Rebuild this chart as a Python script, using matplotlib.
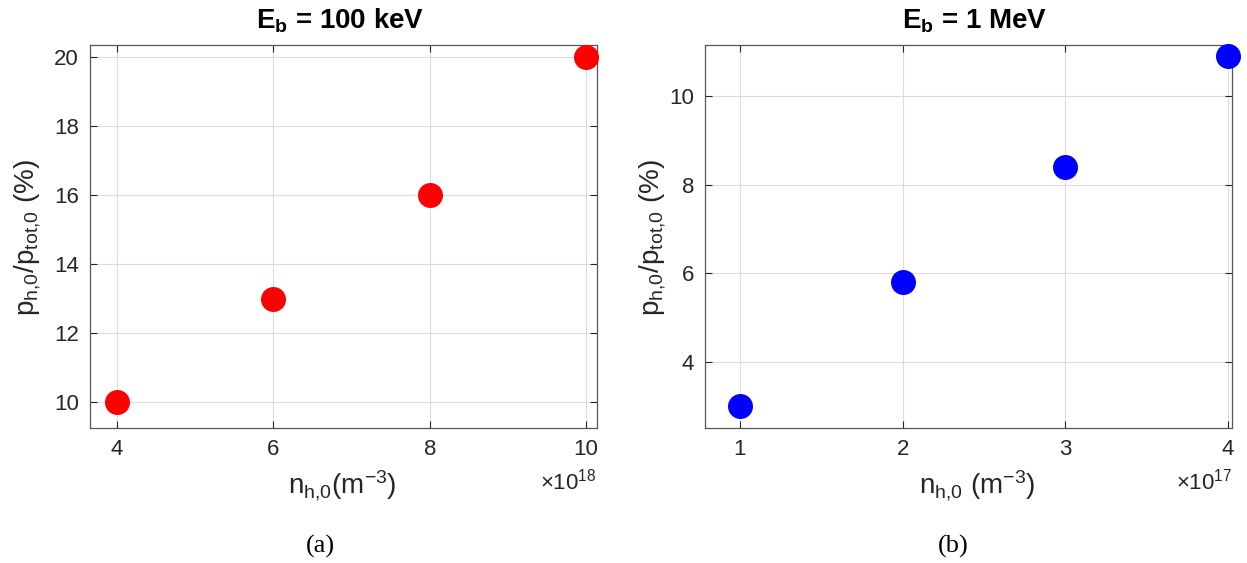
import matplotlib
matplotlib.use("Agg")
import matplotlib.pyplot as plt

# --- DATA ---
n_100kev = [4, 6, 8, 10]          # x 1e18 m^-3
p_100kev = [10, 13, 16, 20]       # %
n_1mev = [1, 2, 3, 4]             # x 1e17 m^-3
p_1mev = [3.0, 5.8, 8.4, 10.9]    # %

plt.rcParams['font.family'] = ['Liberation Sans', 'DejaVu Sans']
plt.rcParams['mathtext.fontset'] = 'custom'
plt.rcParams['mathtext.rm'] = 'Liberation Sans'
plt.rcParams['mathtext.it'] = 'Liberation Sans'
plt.rcParams['mathtext.bf'] = 'Liberation Sans:bold'

W, H = 1247, 563
fig = plt.figure(figsize=(W / 100, H / 100), dpi=100)
dark = '#262626'


def px(x, y):
    # pixel coords (from top-left) -> figure fraction
    return x / W, 1 - y / H


def make_axes(left, right, top, bottom):
    ax = fig.add_axes([left / W, 1 - bottom / H, (right - left) / W, (bottom - top) / H])
    ax.grid(True, color='#dcdcdc', linewidth=0.8)
    ax.set_axisbelow(True)
    ax.tick_params(direction='in', top=True, right=True, labelsize=16,
                   colors=dark, length=5, width=0.8, pad=8)
    for s in ax.spines.values():
        s.set_color('#555555')
        s.set_linewidth(0.9)
    return ax


ylab = r'$\mathregular{p_{h{,}0}/p_{tot{,}0}}$ (%)'

# --- (a) Eb = 100 keV ---
ax1 = make_axes(90, 597, 45, 428)
ax1.plot(n_100kev, p_100kev, 'o', color='red', markersize=18, markeredgewidth=0,
         clip_on=False, zorder=3)
ax1.set_xlim(3.655, 10.14)
ax1.set_ylim(9.25, 20.35)
ax1.set_xticks([4, 6, 8, 10])
ax1.set_yticks([10, 12, 14, 16, 18, 20])

fig.text(*px(340, 21), r'$\mathbf{E_b}$ = 100 keV', ha='center', va='center',
         fontsize=20, fontweight='bold', color='black')
fig.text(*px(28, 238), ylab, ha='center', va='center',
         rotation=90, fontsize=20, color=dark)
fig.text(*px(342, 486), r'$\mathregular{n_{h{,}0}(m^{-3})}$', ha='center', va='center',
         fontsize=20, color=dark)
fig.text(*px(597, 482), r'$\times\mathregular{10^{18}}$', ha='right', va='center',
         fontsize=16, color=dark)
fig.text(*px(320, 546), '(a)', ha='center', va='center', fontsize=19,
         family='Liberation Serif', color='black')

# --- (b) Eb = 1 MeV ---
ax2 = make_axes(705, 1232, 45, 428)
ax2.plot(n_1mev, p_1mev, 'o', color='blue', markersize=18, markeredgewidth=0,
         clip_on=False, zorder=3)
ax2.set_xlim(0.785, 4.025)
ax2.set_ylim(2.51, 11.15)
ax2.set_xticks([1, 2, 3, 4])
ax2.set_yticks([4, 6, 8, 10])

fig.text(*px(975, 21), r'$\mathbf{E_b}$ = 1 MeV', ha='center', va='center',
         fontsize=20, fontweight='bold', color='black')
fig.text(*px(653, 238), ylab, ha='center', va='center',
         rotation=90, fontsize=20, color=dark)
fig.text(*px(977, 486), r'$\mathregular{n_{h{,}0}\ (m^{-3})}$', ha='center', va='center',
         fontsize=20, color=dark)
fig.text(*px(1232, 482), r'$\times\mathregular{10^{17}}$', ha='right', va='center',
         fontsize=16, color=dark)
fig.text(*px(953, 546), '(b)', ha='center', va='center', fontsize=19,
         family='Liberation Serif', color='black')

fig.savefig('out.png', dpi=100)
